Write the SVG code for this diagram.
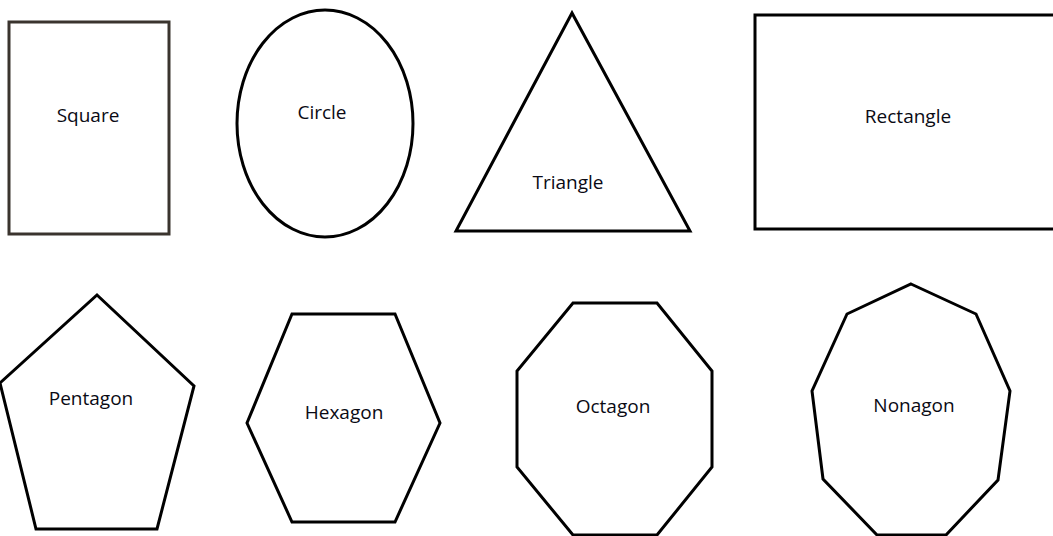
<svg xmlns="http://www.w3.org/2000/svg" width="1053" height="536" viewBox="0 0 1053 536">
<style>
.shape{fill:#fff;stroke:#000;stroke-width:3;stroke-linejoin:miter}
.sq{stroke:#3a342e}
.lbl{font-family:"Open Sans","Liberation Sans",sans-serif;font-size:19px;font-weight:500;fill:#0a0a14;text-anchor:middle}
</style>
<rect width="1053" height="536" fill="#fff"/>
<g id="square"><rect class="shape sq" x="9" y="22" width="160" height="212"/><text class="lbl" x="88" y="122">Square</text></g>
<g id="circle"><ellipse class="shape" cx="325" cy="123.5" rx="88" ry="113.5"/><text class="lbl" x="322" y="119">Circle</text></g>
<g id="triangle"><polygon class="shape" points="572,13 456,231 690,231"/><text class="lbl" x="568" y="189">Triangle</text></g>
<g id="rectangle"><rect class="shape" x="755" y="15" width="310" height="214"/><text class="lbl" x="908" y="123">Rectangle</text></g>
<g id="pentagon"><polygon class="shape" points="97,295 194,386 157,529 36,529 0,383"/><text class="lbl" x="91" y="405">Pentagon</text></g>
<g id="hexagon"><polygon class="shape" points="292,314 395,314 440,423 395,522 292,522 247,423"/><text class="lbl" x="344" y="419">Hexagon</text></g>
<g id="octagon"><polygon class="shape" points="573,303 657,303 712,371 712,467 657,535 573,535 517,467 517,371"/><text class="lbl" x="613" y="413">Octagon</text></g>
<g id="nonagon"><polygon class="shape" points="911,284 976,314 1010,391 998,480 946,535 877,535 823,479 812,391 847,314"/><text class="lbl" x="914" y="412">Nonagon</text></g>
<g id="connectors"/>
</svg>
